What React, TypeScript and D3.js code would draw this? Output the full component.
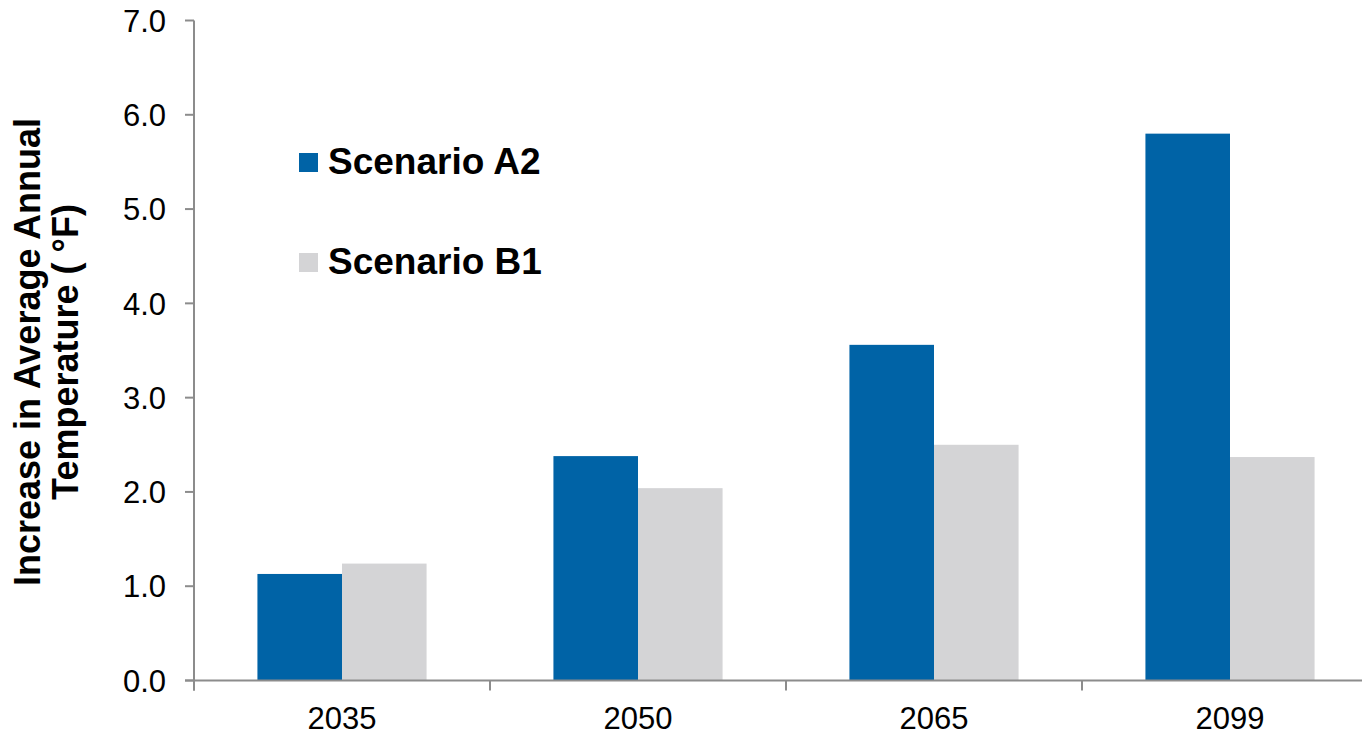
import React from "react";
import * as d3 from "d3";

const categories = ["2035", "2050", "2065", "2099"];
const seriesNames = ["Scenario A2", "Scenario B1"];
const scenarioA2 = [1.13, 2.38, 3.56, 5.8];
const scenarioB1 = [1.24, 2.04, 2.5, 2.37];
const yTicks = [0, 1, 2, 3, 4, 5, 6, 7];
const colors = ["#0063A6", "#D4D4D6"];

const W = 1362;
const H = 735;
const axisX = 194;
const axisY = 680.5;
const FONT = "'Liberation Sans', Arial, Helvetica, sans-serif";

export default function App() {
  const y = d3.scaleLinear().domain([0, 7]).range([axisY, 20.5]);
  const x0 = d3.scaleBand<string>().domain(categories).range([axisX, axisX + 296 * 4]).padding(0);
  const x1 = d3
    .scaleBand<string>()
    .domain(seriesNames)
    .range([0, x0.bandwidth()])
    .paddingInner(0)
    .paddingOuter(0.75);
  const values = [scenarioA2, scenarioB1];
  const boundaries = categories.map((c) => x0(c) as number).concat([axisX + 296 * 4]);

  return (
    <svg
      width={W}
      height={H}
      style={{ position: "fixed", left: 0, top: 0, background: "#fff" }}
      fontFamily={FONT}
    >
      <rect x={0} y={0} width={W} height={H} fill="#fff" />
      {/* bars */}
      {categories.map((c, i) =>
        seriesNames.map((s, j) => (
          <rect
            key={c + s}
            x={(x0(c) as number) + (x1(s) as number)}
            y={y(values[j][i])}
            width={x1.bandwidth()}
            height={axisY - y(values[j][i])}
            fill={colors[j]}
          />
        ))
      )}
      {/* y axis */}
      <line x1={axisX} x2={axisX} y1={y(7)} y2={axisY + 10} stroke="#8c8c8c" strokeWidth={2} />
      {yTicks.map((t) => (
        <g key={t}>
          <line x1={axisX - 9} x2={axisX} y1={y(t)} y2={y(t)} stroke="#8c8c8c" strokeWidth={2} />
          <text
            x={166}
            y={y(t)}
            dy="0.36em"
            textAnchor="end"
            fontSize={31}
            fill="#000"
          >
            {d3.format(".1f")(t)}
          </text>
        </g>
      ))}
      {/* x axis */}
      <line x1={axisX - 9} x2={W} y1={axisY} y2={axisY} stroke="#8c8c8c" strokeWidth={2} />
      {boundaries.map((b, i) => (
        <line key={i} x1={b} x2={b} y1={axisY} y2={axisY + 10} stroke="#8c8c8c" strokeWidth={2} />
      ))}
      {categories.map((c) => (
        <text
          key={c}
          x={(x0(c) as number) + x0.bandwidth() / 2}
          y={729}
          textAnchor="middle"
          fontSize={31}
          fill="#000"
        >
          {c}
        </text>
      ))}
      {/* legend */}
      {seriesNames.map((s, j) => (
        <g key={s} transform={`translate(299, ${153 + j * 100})`}>
          <rect x={0} y={0} width={19} height={19} fill={colors[j]} />
          <text x={29} y={21} fontSize={37} fontWeight="bold" fill="#000">
            {s}
          </text>
        </g>
      ))}
      {/* y axis title */}
      <g transform={`translate(40, 352) rotate(-90)`}>
        <text x={0} y={0} textAnchor="middle" fontSize={36} fontWeight="bold" fill="#000">
          Increase in Average Annual
        </text>
        <text x={0} y={38} textAnchor="middle" fontSize={36} fontWeight="bold" fill="#000">
          {"Temperature ( °F)"}
        </text>
      </g>
    </svg>
  );
}
